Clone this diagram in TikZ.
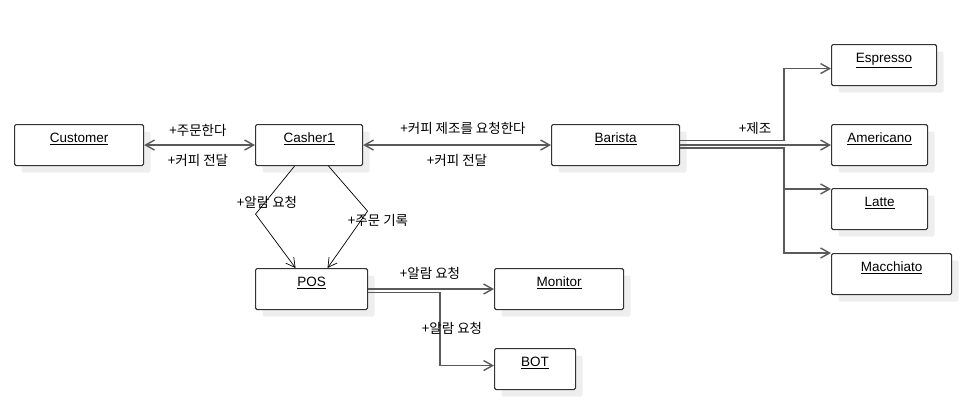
\documentclass[tikz,border=0pt]{standalone}
\usepackage{fontspec}
\setmainfont{Liberation Sans}
\newfontfamily\kofont{Noto Sans CJK KR}
\usetikzlibrary{arrows.meta,shadows}
\definecolor{linkgray}{RGB}{90,90,90}
\definecolor{boxline}{RGB}{51,51,51}
\definecolor{shadowgray}{RGB}{238,238,238}

\begin{document}
\begin{tikzpicture}[x=1pt,y=-1pt,
    >={Straight Barb[length=9pt,width=10pt]},
    link/.style={draw=linkgray,line width=1.4pt},
    thinlink/.style={draw=black,line width=0.7pt}]

        \useasboundingbox (0,0) rectangle (968,416);

        \begin{scope}[every node/.style={draw=boxline,line width=1.1pt,rounded corners=1.5pt,fill=white,
            anchor=north west,drop shadow={shadow xshift=7pt,shadow yshift=-7pt,fill=shadowgray,opacity=1},
            minimum height=41pt,text height=18pt,text depth=23pt,inner ysep=0pt,
            font=\fontsize{13.5}{15}\selectfont}]
          \node[minimum width=129pt] (customer)  at (14,124)  {\underline{Customer}};
          \node[minimum width=107pt] (casher)    at (255,124) {\underline{Casher1}};
          \node[minimum width=128pt] (barista)   at (551,124) {\underline{Barista}};
          \node[minimum width=105pt] (espresso)  at (831,44)  {\underline{Espresso}};
          \node[minimum width=96pt]  (americano) at (831,124) {\underline{Americano}};
          \node[minimum width=96pt]  (latte)     at (831,188) {\underline{Latte}};
          \node[minimum width=120pt] (macchiato) at (831,253) {\underline{Macchiato}};
          \node[minimum width=112pt] (pos)       at (255,268) {\underline{POS}};
          \node[minimum width=129pt] (monitor)   at (494,268) {\underline{Monitor}};
          \node[minimum width=81pt]  (bot)       at (494,348) {\underline{BOT}};
        \end{scope}

        \begin{scope}[every edge/.style={link}]
          \path (customer) edge[<->] (casher);
          \path (casher)   edge[<->] (barista);
          \path (barista)  edge[->]  (americano);
          \path (pos)      edge[->]  (monitor);
        \end{scope}

        \draw[link,->] ([yshift=4.5pt]barista.east) -- ++(104,0) |- ([yshift=-3.5pt]espresso.west);
        \draw[link,->] ([yshift=-3pt]barista.east) -- ++(104,0) |- ([yshift=-1pt]latte.north west);
        \draw[link,->] ([yshift=-3.5pt]barista.east) -- ++(104,0) |- (macchiato.north west);
        \draw[link,->] ([yshift=-3.5pt]pos.east) -- ++(72,0) |- ([yshift=3.5pt]bot.west);

        \draw[thinlink,->] ([xshift=-14.5pt]casher.south) -- ++(-39,48) -- ([xshift=-16pt]pos.north);
        \draw[thinlink,->] ([xshift=19.5pt]casher.south) -- ++(39,45) -- ([xshift=16pt]pos.north);

        \begin{scope}[every node/.style={font=\kofont\fontsize{13.5}{15}\selectfont}]
          \node (order)     at (198,130) {+주문한다};
          \node (serve)     at (198,160) {+커피 전달};
          \node (request)   at (463,128) {+커피 제조를 요청한다};
          \node (deliver)   at (457,160) {+커피 전달};
          \node (make)      at (755,128) {+제조};
          \node (alarm)     at (267,202) {+알람 요청};
          \node (record)    at (378,220) {+주문 기록};
          \node (alarmmon)  at (430,273) {+알람 요청};
          \node (alarmbot)  at (452,328) {+알람 요청};
        \end{scope}

      \end{tikzpicture}
\end{document}
